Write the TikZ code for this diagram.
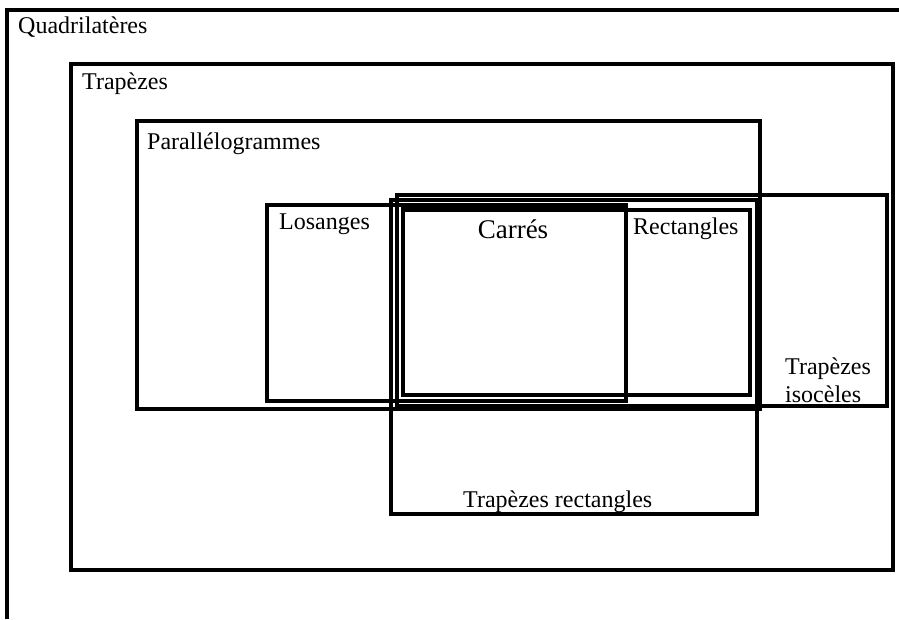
\documentclass[tikz,border=0pt]{standalone}
\usepackage{fontspec}
\setmainfont{Liberation Serif}
\tikzset{
  ensemble/.style={draw, line width=3.4pt},
  nom/.style={anchor=base west, inner sep=0pt, font=\fontsize{24}{28}\selectfont},
}
\begin{document}
\begin{tikzpicture}[x=1pt,y=-1pt]
  \useasboundingbox (0,0) rectangle (899,619);
  % quadrilateres, coupe par le bord
  \draw[ensemble] (7,619) -- (7,10) -- (899,10);
  \node[nom] (quad) at (18,33) {Quadrilatères};
  % trapezes
  \draw[ensemble] (71,64) rectangle (893,570);
  \node[nom] (trap) at (82,89) {Trapèzes};
  % parallelogrammes
  \draw[ensemble] (137,121) rectangle (760,409);
  \node[nom] (para) at (147,149) {Parallélogrammes};
  % trapezes isoceles et rectangles
  \draw[ensemble] (397,195) rectangle (887,406);
  \node[nom] (iso1) at (785,374) {Trapèzes};
  \node[nom] (iso2) at (785,402) {isocèles};
  \draw[ensemble] (391,200) rectangle (757,514);
  \node[nom] (trect) at (463,507) {Trapèzes rectangles};
  % losanges, rectangles, carres
  \draw[ensemble] (267,205) rectangle (626,401);
  \node[nom] (los) at (279,229) {Losanges};
  \draw[ensemble] (403,210) rectangle (750,395);
  \node[nom] (rect) at (633,234) {Rectangles};
  \draw[ensemble] (403,209) rectangle (626,395);
  \node[nom, anchor=base, font=\fontsize{27}{30}\selectfont] (carre) at (513,238) {Carrés};
\end{tikzpicture}
\end{document}
